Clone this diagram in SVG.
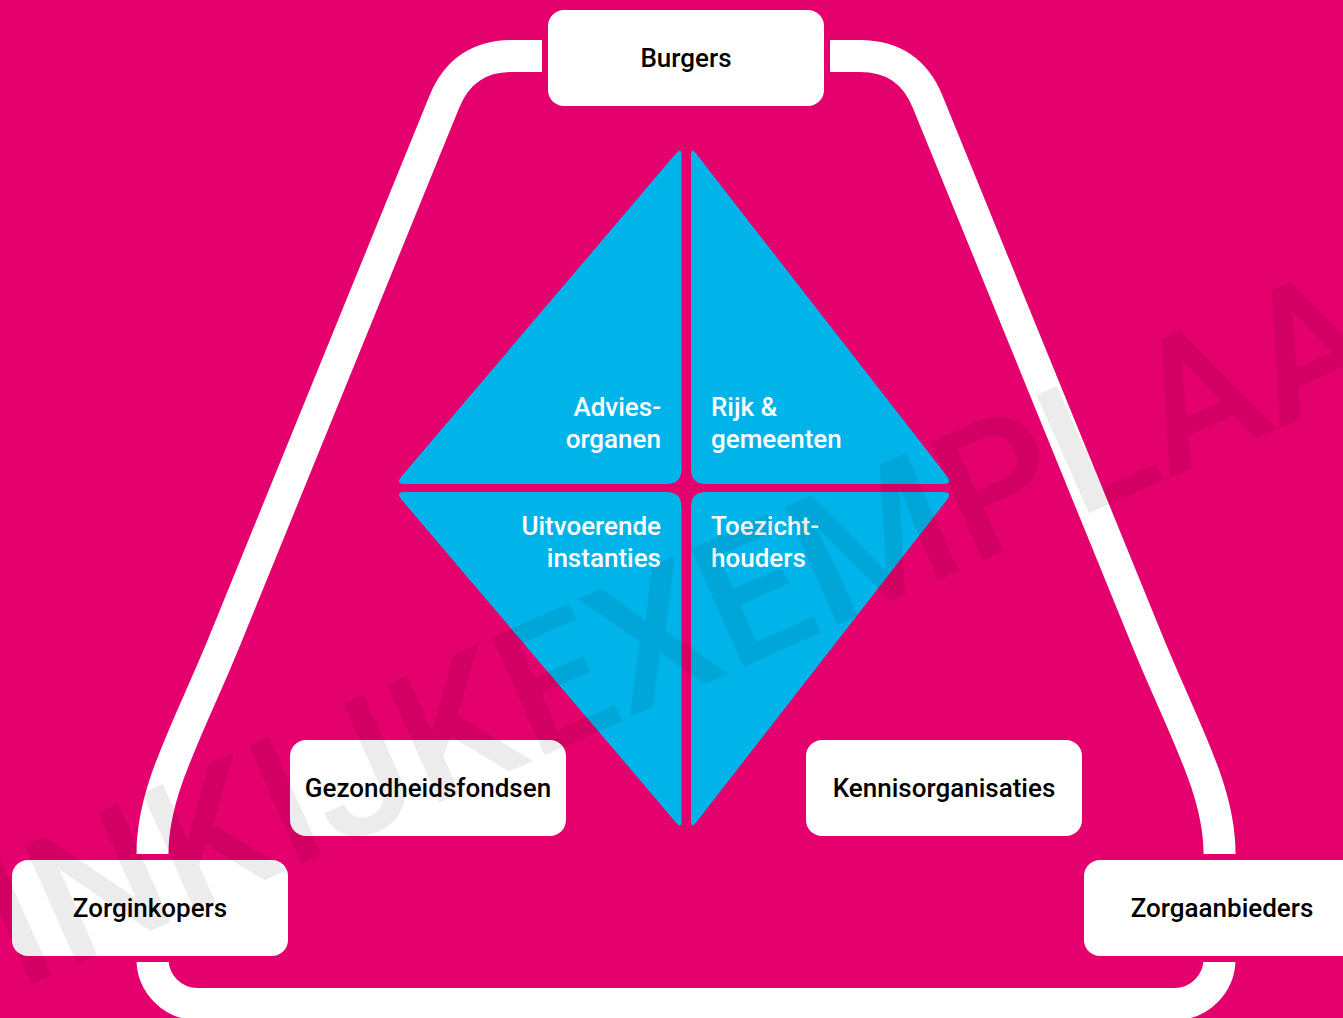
<svg xmlns="http://www.w3.org/2000/svg" width="1343" height="1018" viewBox="0 0 1343 1018">
<style>
.bg{fill:#E4006D}
.ring{fill:none;stroke:#FFFFFF;stroke-width:32;stroke-linejoin:round}
.halo{fill:#E4006D}
.box{fill:#FFFFFF}
.tri{fill:#00B4EA}
.lbl{font-family:Roboto,"Liberation Sans",sans-serif;font-weight:500;font-size:26px;fill:#000000;text-anchor:middle}
.in{font-family:Roboto,"Liberation Sans",sans-serif;font-weight:500;font-size:26px;fill:#FFFFFF}
.wm{font-family:Roboto,"Liberation Sans",sans-serif;font-weight:500;font-size:182px;fill:#000000;fill-opacity:0.075}
</style>
<rect class="bg" x="0" y="0" width="1343" height="1018"/>
<g id="connectors">
<path class="ring" d="M 686,56 L 512,56 Q 463,56 444.5,101.4 L 225,640 C 188.3,730 152.5,790 152.5,853 L 152.5,959 A 45 45 0 0 0 197.5,1004 L 1174.5,1004 A 45 45 0 0 0 1219.5,959 L 1219.5,853 C 1219.5,790 1183.7,730 1147,640 L 927.5,101.4 Q 909,56 860,56 Z"/>
</g>
<g id="diamond">
<g id="advies">
<path class="tri" d="M 681.5,155 L 681.5,469 Q 681.5,484 666.5,484 L 405,484 Q 395,484 401.5,476.4 L 676.3,153.1 Q 681.5,147 681.5,155 Z"/>
<text class="in" x="661" y="416" text-anchor="end">Advies-</text>
<text class="in" x="661" y="448" text-anchor="end">organen</text>
</g>
<g id="rijk">
<path class="tri" d="M 691,155 L 691,469 Q 691,484 706,484 L 943,484 Q 953,484 946.9,476.1 L 695.9,153.3 Q 691,147 691,155 Z"/>
<text class="in" x="711" y="416">Rijk &amp;</text>
<text class="in" x="711" y="448">gemeenten</text>
</g>
<g id="uitvoerende">
<path class="tri" d="M 681.5,821 L 681.5,507 Q 681.5,492 666.5,492 L 405,492 Q 395,492 401.5,499.6 L 676.3,822.9 Q 681.5,829 681.5,821 Z"/>
<text class="in" x="661" y="535" text-anchor="end">Uitvoerende</text>
<text class="in" x="661" y="567" text-anchor="end">instanties</text>
</g>
<g id="toezicht">
<path class="tri" d="M 691,821 L 691,507 Q 691,492 706,492 L 943,492 Q 953,492 946.9,499.9 L 695.9,822.7 Q 691,829 691,821 Z"/>
<text class="in" x="711" y="535">Toezicht-</text>
<text class="in" x="711" y="567">houders</text>
</g>
</g>
<g id="burgers">
<rect class="halo" x="542" y="4" width="288" height="108" rx="22"/>
<rect class="box" x="548" y="10" width="276" height="96" rx="16"/>
<text class="lbl" x="686" y="67">Burgers</text>
</g>
<g id="gezondheidsfondsen">
<rect class="box" x="290" y="740" width="276" height="96" rx="16"/>
<text class="lbl" x="428" y="797">Gezondheidsfondsen</text>
</g>
<g id="kennisorganisaties">
<rect class="box" x="806" y="740" width="276" height="96" rx="16"/>
<text class="lbl" x="944" y="797">Kennisorganisaties</text>
</g>
<g id="zorginkopers">
<rect class="halo" x="6" y="854" width="288" height="108" rx="22"/>
<rect class="box" x="12" y="860" width="276" height="96" rx="16"/>
<text class="lbl" x="150" y="917">Zorginkopers</text>
</g>
<g id="zorgaanbieders">
<rect class="halo" x="1078" y="854" width="300" height="108" rx="22"/>
<rect class="box" x="1084" y="860" width="290" height="96" rx="16"/>
<text class="lbl" x="1222" y="917">Zorgaanbieders</text>
</g>
<text class="wm" transform="translate(18,990) rotate(-24)">INKIJKEXEMPLAAR</text>
</svg>
